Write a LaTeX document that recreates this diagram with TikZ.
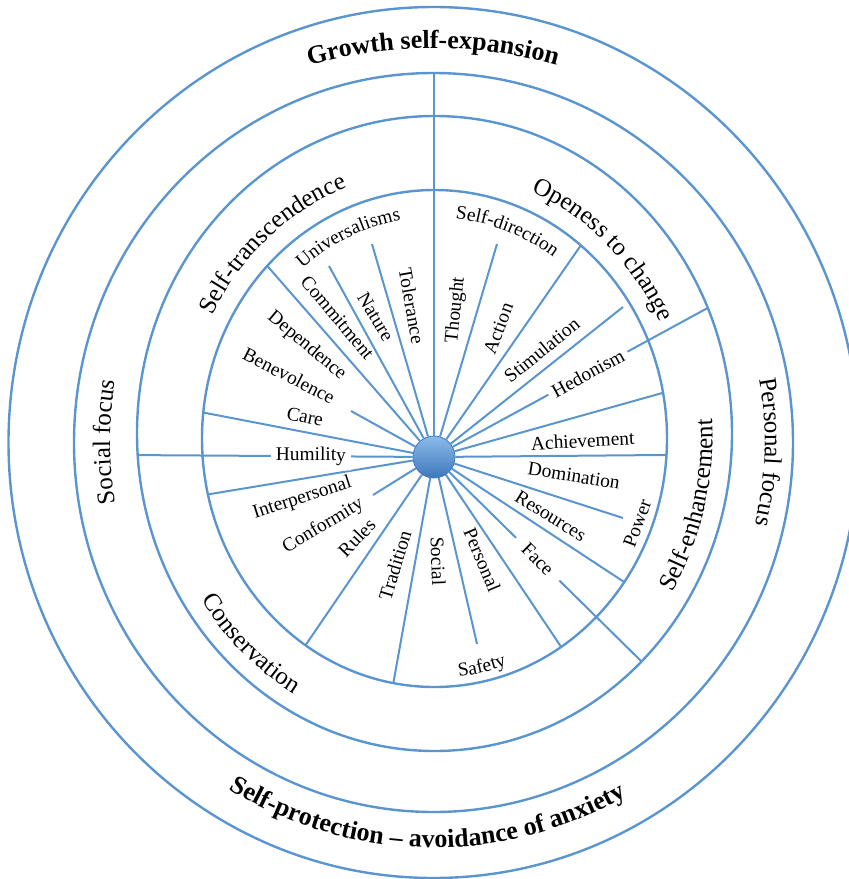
\documentclass[tikz,border=0pt]{standalone}
\usepackage{fontspec}
\setmainfont{Liberation Serif}
\usetikzlibrary{calc}
\usetikzlibrary{decorations.text}
\definecolor{ringblue}{HTML}{5B95CF}
\definecolor{hublight}{HTML}{8CBBEA}
\definecolor{hubdark}{HTML}{3D78BC}
\newcommand{\valfont}{\fontsize{9.7}{11}\selectfont}
\newcommand{\groupfont}{\fontsize{12.5}{15}\selectfont}
\newcommand{\motivefont}{\fontsize{13}{15}\selectfont\bfseries}
\tikzset{
  ring/.style={draw=ringblue, line width=1.2pt},
  spoke/.style={draw=ringblue, line width=1pt},
  val/.style={font=\valfont, inner sep=1pt},
  cutlabel/.style={val, fill=white, sloped, inner sep=2.5pt},
  hub/.style={circle, minimum size=21pt, inner sep=0pt, draw=hubdark, line width=.4pt, top color=hublight, bottom color=hubdark},
  arctext/.style={decorate, decoration={text along path, text align=center, text={#1}}}
}
\begin{document}
\begin{tikzpicture}[x=0.5pt,y=-0.5pt]
\useasboundingbox (0,0) rectangle (849,879);
%centres of the rings
\coordinate (c1) at (434.5,438.5);
\coordinate (c2) at (434.5,433.5);
\coordinate (c3) at (433.5,442.5);
%rings
\draw[ring] (c1) ellipse [x radius=232.5, y radius=248.5];
\draw[ring] (c2) ellipse [x radius=297.5, y radius=317.5];
\draw[ring] (c3) ellipse [x radius=359.5, y radius=369.5];
\draw[ring] (c3) ellipse [x radius=425, y radius=435.5];
%hub
\node[hub] (hub) at (434,457) {};
%spokes to the inner ring
\foreach \a [count=\i] in {224,309,349.4,3.8,35.3,57,100.2,123.7,167,186}
  \coordinate (r\i) at ($(c1)+(\a:232.5 and 248.5)$);
\foreach \i in {1,...,10}
  \draw[spoke] (hub) -- (r\i);
%short spokes
\foreach \x/\y [count=\i] in {329/266,372/244,497/244,623/307,623/518,477/644,373/495,351/411}
  \coordinate (f\i) at (\x,\y);
\foreach \i in {1,...,8}
  \draw[spoke] (hub) -- (f\i);
%long spokes
\coordinate (top) at (434,73);
\coordinate (hum) at ($(c2)+(176.1:297.5 and 317.5)$);
\coordinate (hed) at ($(c2)+(336.7:297.5 and 317.5)$);
\coordinate (fac) at ($(c2)+(45.9:297.5 and 317.5)$);
\draw[spoke] (hub) -- (top);
\draw[spoke] (hub) -- node[cutlabel, pos=.37] (humility) {Humility} (hum);
\draw[spoke] (hub) -- node[cutlabel, pos=.53] (hedonism) {Hedonism} (hed);
\draw[spoke] (hub) -- node[cutlabel, pos=.46, inner sep=6pt] (face) {Face} (fac);
%values
\node[val, rotate=-50] (commit) at (337.5,317.5) {Commitment};
\node[val, rotate=-59] (nature) at (375.7,316.7) {Nature};
\node[val, rotate=-80] (toler) at (411.7,306) {Tolerance};
\node[val, rotate=84] (thought) at (456,310) {Thought};
\node[val, rotate=69] (action) at (498.3,328.3) {Action};
\node[val, rotate=39] (stim) at (541.7,350) {Stimulation};
\node[val, rotate=3] (achieve) at (582.7,440.7) {Achievement};
\node[val, rotate=-9] (domin) at (574,475.7) {Domination};
\node[val, rotate=-32] (resour) at (550.7,516) {Resources};
\node[val, rotate=70] (power) at (637.3,523.3) {Power};
\node[val, rotate=-67] (personal) at (482.3,560) {Personal};
\node[val, rotate=-88] (social) at (438,561) {Social};
\node[val, rotate=73] (trad) at (395,565) {Tradition};
\node[val, rotate=46] (rules) at (356.7,537.7) {Rules};
\node[val, rotate=31] (conform) at (323.3,526) {Conformity};
\node[val, rotate=18] (interp) at (302.3,498.3) {Interpersonal};
\node[val, rotate=-12] (care) at (305,416.7) {Care};
\node[val, rotate=-27] (benev) at (289,375.7) {Benevolence};
\node[val, rotate=-40] (depend) at (306.7,345.7) {Dependence};
%curved values
\path[arctext={|\valfont|Universalisms}] ($(c1)+(206:207 and 221)$) arc[start angle=206, end angle=286, x radius=207, y radius=221];
\path[arctext={|\valfont|Self-direction}] ($(c1)+(250:207 and 221)$) arc[start angle=250, end angle=330, x radius=207, y radius=221];
\path[arctext={|\valfont|Safety}] ($(c1)+(117.8:224 and 239.5)$) arc[start angle=117.8, end angle=37.8, x radius=224, y radius=239.5];
%higher order values
\path[arctext={|\groupfont|Self-transcendence}] ($(c1)+(189:250 and 268)$) arc[start angle=189, end angle=269, x radius=250, y radius=268];
\path[arctext={|\groupfont|Openess to change}] ($(c1)+(273:250 and 268)$) arc[start angle=273, end angle=353, x radius=250, y radius=268];
\path[arctext={|\groupfont|Self-enhancement}] ($(c1)+(54:278 and 296)$) arc[start angle=54, end angle=-26, x radius=278, y radius=296];
\path[arctext={|\groupfont|Conservation}] ($(c1)+(173:278 and 296)$) arc[start angle=173, end angle=93, x radius=278, y radius=296];
%focus
\coordinate (cf) at (434,442);
\path[arctext={|\groupfont|Social focus}] ($(cf)+(150:324 and 340)$) arc[start angle=150, end angle=210, x radius=324, y radius=340];
\path[arctext={|\groupfont|Personal focus}] ($(cf)+(-28.3:331 and 340)$) arc[start angle=-28.3, end angle=31.7, x radius=331, y radius=340];
%anxiety
\coordinate (cg) at (433,498);
\path[arctext={|\motivefont|Growth self-expansion}] ($(cg)+(240:450)$) arc[start angle=240, end angle=300, radius=450];
\path[arctext={|\motivefont|Self-protection – avoidance of anxiety}] ($(c3)+(151:395 and 405)$) arc[start angle=151, end angle=31, x radius=395, y radius=405];
\end{tikzpicture}
\end{document}
